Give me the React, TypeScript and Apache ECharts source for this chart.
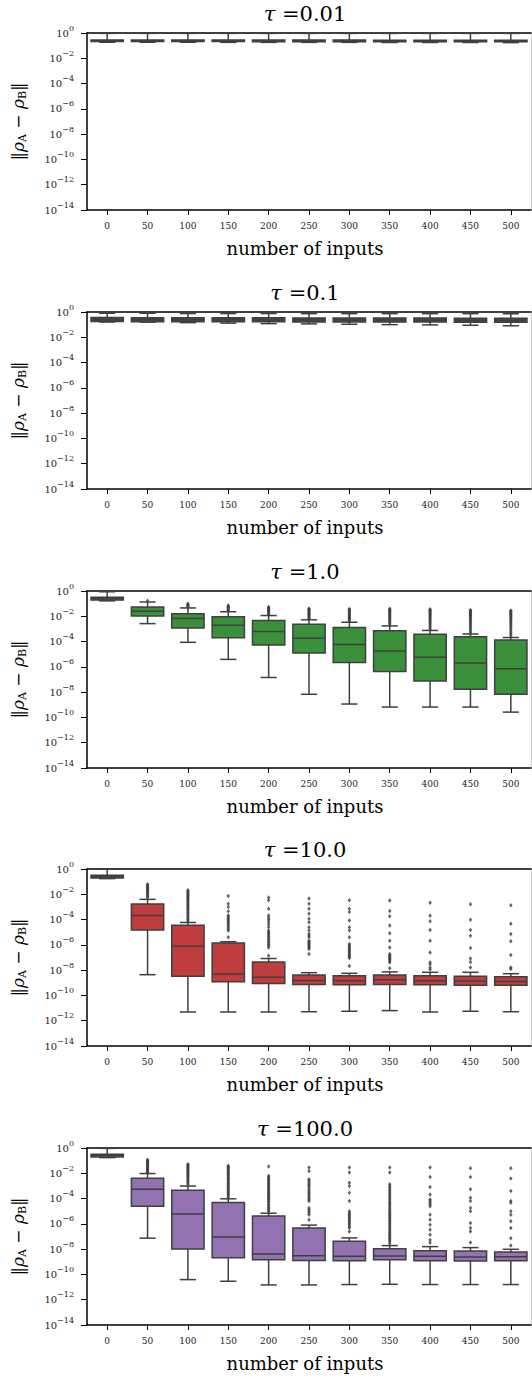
import React, { useEffect, useRef } from 'react';
import * as echarts from 'echarts';

// x categories (number of inputs)
const categories = ['0', '50', '100', '150', '200', '250', '300', '350', '400', '450', '500'];
const tauLabels = ['0.01', '0.1', '1.0', '10.0', '100.0'];
const boxColors = ['#4a4a4a', '#4a4a4a', '#3b913b', '#c03d3e', '#9372b2'];

// All values below are log10(‖ρA − ρB‖).
// Box rows: [lower whisker, q1, median, q3, upper whisker], one row per category.
const boxesTau001 = [
  [-0.73, -0.68, -0.62, -0.56, -0.03], [-0.73, -0.68, -0.62, -0.56, -0.03],
  [-0.73, -0.68, -0.62, -0.56, -0.03], [-0.74, -0.68, -0.62, -0.56, -0.03],
  [-0.74, -0.69, -0.62, -0.56, -0.03], [-0.74, -0.69, -0.63, -0.56, -0.03],
  [-0.74, -0.69, -0.63, -0.56, -0.03], [-0.75, -0.69, -0.63, -0.57, -0.03],
  [-0.75, -0.69, -0.63, -0.57, -0.03], [-0.75, -0.70, -0.63, -0.57, -0.03],
  [-0.76, -0.70, -0.64, -0.57, -0.03],
];
const boxesTau01 = [
  [-0.79, -0.76, -0.60, -0.44, -0.10], [-0.80, -0.77, -0.61, -0.45, -0.10],
  [-0.84, -0.78, -0.62, -0.45, -0.12], [-0.88, -0.78, -0.62, -0.46, -0.12],
  [-0.92, -0.78, -0.63, -0.46, -0.12], [-0.94, -0.79, -0.63, -0.47, -0.13],
  [-0.97, -0.79, -0.64, -0.47, -0.13], [-1.00, -0.80, -0.64, -0.48, -0.13],
  [-1.02, -0.80, -0.65, -0.48, -0.13], [-1.05, -0.81, -0.65, -0.49, -0.13],
  [-1.09, -0.82, -0.66, -0.49, -0.14],
];
const boxesTau1 = [
  [-0.78, -0.71, -0.60, -0.50, -0.06], [-2.58, -1.98, -1.60, -1.26, -0.87],
  [-4.06, -2.92, -2.18, -1.79, -1.34], [-5.41, -3.69, -2.71, -2.04, -1.64],
  [-6.84, -4.27, -3.21, -2.33, -1.94], [-8.17, -4.91, -3.74, -2.63, -2.28],
  [-8.94, -5.65, -4.24, -2.89, -2.47], [-9.18, -6.37, -4.74, -3.15, -2.76],
  [-9.18, -7.11, -5.24, -3.42, -3.12], [-9.18, -7.77, -5.69, -3.62, -3.40],
  [-9.58, -8.17, -6.15, -3.88, -3.68],
];
const boxesTau10 = [
  [-0.76, -0.71, -0.60, -0.50, -0.02], [-8.36, -4.82, -3.67, -2.77, -2.40],
  [-11.31, -8.49, -6.12, -4.45, -4.23], [-11.31, -8.92, -8.30, -5.86, -5.75],
  [-11.31, -9.05, -8.57, -7.35, -7.08], [-11.29, -9.13, -8.81, -8.38, -8.20],
  [-11.25, -9.16, -8.84, -8.44, -8.25], [-11.20, -9.13, -8.76, -8.38, -8.14],
  [-11.31, -9.16, -8.84, -8.44, -8.17], [-11.25, -9.19, -8.86, -8.49, -8.17],
  [-11.29, -9.19, -8.89, -8.52, -8.28],
];
const boxesTau100 = [
  [-0.76, -0.71, -0.60, -0.50, -0.03], [-7.13, -4.60, -3.27, -2.40, -2.02],
  [-10.41, -7.99, -5.22, -3.35, -3.01], [-10.54, -8.68, -7.03, -4.31, -4.02],
  [-10.83, -8.84, -8.38, -5.38, -5.16], [-10.83, -8.89, -8.52, -6.33, -6.10],
  [-10.80, -8.92, -8.57, -7.37, -7.11], [-10.78, -8.84, -8.54, -7.96, -7.72],
  [-10.80, -8.92, -8.57, -8.12, -7.80], [-10.80, -8.94, -8.62, -8.14, -7.88],
  [-10.80, -8.92, -8.60, -8.22, -8.01],
];

// Outliers (log10 values), one list per category.
const fliersTau001: number[][] = [[], [], [], [], [], [], [], [], [], [], []];
const fliersTau01: number[][] = [[], [], [], [], [], [], [], [], [], [], []];
const fliersTau1: number[][] = [
  [],
  [-0.78],
  [-1.0, -1.07, -1.12, -1.2, -1.27],
  [-1.14, -1.2, -1.27, -1.33, -1.41, -1.48, -1.56],
  [-1.27, -1.33, -1.4, -1.46, -1.53, -1.6, -1.68, -1.77, -1.86],
  [-1.38, -1.44, -1.5, -1.57, -1.63, -1.7, -1.76, -1.83, -1.9, -1.97, -2.05, -2.13, -2.2],
  [-1.43, -1.49, -1.55, -1.62, -1.68, -1.75, -1.82, -1.9, -1.97, -2.05, -2.13, -2.21, -2.3, -2.38],
  [-1.4, -1.46, -1.52, -1.58, -1.65, -1.72, -1.79, -1.86, -1.94, -2.02, -2.1, -2.19, -2.28, -2.38, -2.48, -2.6, -2.7],
  [-1.45, -1.51, -1.57, -1.63, -1.7, -1.77, -1.84, -1.92, -2.0, -2.08, -2.17, -2.26, -2.36, -2.46, -2.57, -2.68, -2.8, -2.93, -3.05],
  [-1.5, -1.56, -1.62, -1.69, -1.76, -1.83, -1.9, -1.98, -2.06, -2.15, -2.24, -2.34, -2.44, -2.55, -2.66, -2.78, -2.9, -3.03, -3.16, -3.3],
  [-1.55, -1.61, -1.67, -1.74, -1.81, -1.88, -1.96, -2.04, -2.13, -2.22, -2.32, -2.42, -2.53, -2.64, -2.76, -2.88, -3.01, -3.14, -3.28, -3.42, -3.56],
];
const fliersTau10: number[][] = [
  [],
  [-1.2, -1.27, -1.34, -1.41, -1.48, -1.56, -1.63, -1.71, -1.8, -1.88, -1.97, -2.06, -2.16, -2.26],
  [-1.68, -1.76, -1.84, -1.92, -2.0, -2.08, -2.16, -2.24, -2.33, -2.42, -2.51, -2.6, -2.7, -2.8, -2.9, -3.0, -3.1, -3.2, -3.3, -3.42, -3.54, -3.66, -3.78, -3.9, -4.02, -4.12],
  [-2.13, -2.74, -3.0, -3.35, -3.67, -3.78, -3.9, -4.02, -4.12, -4.24, -4.36, -4.48, -4.6, -4.74, -4.87, -5.4],
  [-2.26, -2.48, -3.14, -3.67, -3.85, -4.02, -4.2, -4.38, -4.6, -4.87, -4.98, -5.1, -5.22, -5.34, -5.46, -5.58, -5.7, -5.82, -5.95, -6.08, -6.2, -6.87],
  [-2.34, -2.74, -3.14, -3.54, -3.94, -4.21, -4.6, -4.87, -5.14, -5.27, -5.4, -5.67, -5.76, -5.85, -5.94, -6.03, -6.12, -6.22, -6.33, -6.73],
  [-2.48, -3.14, -3.4, -4.07, -4.6, -4.87, -5.4, -5.94, -6.04, -6.14, -6.24, -6.34, -6.44, -6.54, -6.64, -6.74, -6.84, -6.94, -7.04, -7.67],
  [-2.5, -3.33, -3.73, -4.47, -5.08, -5.67, -6.2, -6.73, -6.82, -6.91, -7.0, -7.09, -7.18, -7.28, -7.4, -7.85],
  [-2.66, -3.7, -4.13, -4.82, -5.67, -6.6, -7.4, -7.53, -7.8, -7.95],
  [-2.79, -4.02, -4.82, -5.27, -6.25, -7.08, -7.35, -7.8],
  [-2.87, -4.34, -5.14, -5.72, -6.81, -7.8, -7.9],
];
const fliersTau100: number[][] = [
  [],
  [-0.93, -1.0, -1.06, -1.12, -1.19, -1.26, -1.33, -1.4, -1.48, -1.56, -1.64, -1.72, -1.8, -1.88, -1.95],
  [-1.28, -1.35, -1.42, -1.5, -1.58, -1.66, -1.74, -1.82, -1.9, -1.98, -2.07, -2.16, -2.25, -2.35, -2.45, -2.55, -2.65, -2.76, -2.88],
  [-1.41, -1.49, -1.57, -1.65, -1.73, -1.82, -1.91, -2.0, -2.1, -2.2, -2.3, -2.4, -2.5, -2.6, -2.7, -2.8, -2.9, -3.0, -3.1, -3.2, -3.3, -3.4, -3.5, -3.6, -3.7, -3.8, -3.92],
  [-1.46, -2.21, -2.3, -2.4, -2.5, -2.6, -2.7, -2.8, -2.9, -3.0, -3.1, -3.2, -3.3, -3.4, -3.5, -3.6, -3.7, -3.8, -3.9, -4.0, -4.1, -4.2, -4.32, -4.44, -4.56, -4.68, -4.8, -4.92, -5.02],
  [-1.54, -1.81, -2.48, -2.6, -2.72, -2.84, -2.96, -3.08, -3.27, -3.4, -3.53, -3.66, -3.8, -3.94, -4.08, -4.2, -4.74, -4.88, -5.02, -5.14, -5.27, -5.67],
  [-1.54, -1.94, -2.74, -3.0, -3.54, -4.2, -5.0, -5.12, -5.24, -5.36, -5.48, -5.6, -5.72, -5.84, -5.96, -6.08, -6.2, -6.33, -6.6],
  [-1.54, -1.94, -2.87, -3.0, -3.13, -3.26, -3.4, -3.54, -3.68, -3.82, -3.96, -4.1, -4.24, -4.36, -4.47, -4.6, -4.74, -4.88, -5.0, -5.12, -5.24, -5.36, -5.48, -5.6, -5.72, -5.84, -5.96, -6.08, -6.2, -6.32, -6.44, -6.56, -6.68, -6.8, -6.92, -7.04, -7.16, -7.28, -7.4, -7.55],
  [-1.54, -2.29, -3.09, -3.67, -4.07, -4.2, -4.34, -4.47, -4.6, -5.27, -5.67, -6.07, -6.47, -6.87, -7.27, -7.5],
  [-1.6, -2.29, -3.27, -3.94, -4.2, -4.74, -5.0, -5.94, -6.33, -6.6, -7.48],
  [-1.6, -2.42, -3.41, -4.2, -4.34, -5.0, -5.27, -5.8, -6.33, -7.13, -7.72],
];

const allBoxes = [boxesTau001, boxesTau01, boxesTau1, boxesTau10, boxesTau100];
const allFliers = [fliersTau001, fliersTau01, fliersTau1, fliersTau10, fliersTau100];

const SERIF = '"DejaVu Serif", "Liberation Serif", serif';
const LINE = '#3f3f3f';
const GRID_LEFT = 87;
const GRID_WIDTH = 444;
const GRID_HEIGHT = 177;
const GRID_TOPS = [33, 312, 591, 869, 1148];

function makeRenderBox(color: string) {
  return (params: any, api: any) => {
    const x = api.value(0);
    const low = api.coord([x, api.value(1)]);
    const q1 = api.coord([x, api.value(2)]);
    const med = api.coord([x, api.value(3)]);
    const q3 = api.coord([x, api.value(4)]);
    const high = api.coord([x, api.value(5)]);
    const band = api.size([1, 0])[0];
    const bw = band * 0.8;
    const cx = low[0];
    const ls = { stroke: LINE, lineWidth: 1.5, fill: null };
    return {
      type: 'group',
      children: [
        { type: 'line', shape: { x1: cx, y1: q1[1], x2: cx, y2: low[1] }, style: ls },
        { type: 'line', shape: { x1: cx, y1: q3[1], x2: cx, y2: high[1] }, style: ls },
        { type: 'line', shape: { x1: cx - bw / 4, y1: low[1], x2: cx + bw / 4, y2: low[1] }, style: ls },
        { type: 'line', shape: { x1: cx - bw / 4, y1: high[1], x2: cx + bw / 4, y2: high[1] }, style: ls },
        {
          type: 'rect',
          shape: { x: cx - bw / 2, y: q3[1], width: bw, height: q1[1] - q3[1] },
          style: { fill: color, stroke: LINE, lineWidth: 1.5 },
        },
        { type: 'line', shape: { x1: cx - bw / 2, y1: med[1], x2: cx + bw / 2, y2: med[1] }, style: ls },
      ],
    };
  };
}

function buildOption() {
  const grid: any[] = [];
  const xAxis: any[] = [];
  const yAxis: any[] = [];
  const series: any[] = [];
  const graphic: any[] = [];

  GRID_TOPS.forEach((top, i) => {
    grid.push({ left: GRID_LEFT, top, width: GRID_WIDTH, height: GRID_HEIGHT });
    // bottom x axis
    xAxis.push({
      type: 'category',
      gridIndex: i,
      data: categories,
      position: 'bottom',
      axisLine: { show: true, onZero: false, lineStyle: { color: '#000', width: 1.5 } },
      axisTick: { show: true, alignWithLabel: true, length: 5, lineStyle: { color: '#000', width: 1 } },
      axisLabel: { fontFamily: SERIF, fontSize: 9, color: '#222', margin: 11 },
      splitLine: { show: false },
    });
    // top spine
    xAxis.push({
      type: 'category',
      gridIndex: i,
      data: categories,
      position: 'top',
      axisLine: { show: true, onZero: false, lineStyle: { color: '#000', width: 1.5 } },
      axisTick: { show: false },
      axisLabel: { show: false },
      splitLine: { show: false },
    });
    // left y axis
    yAxis.push({
      type: 'value',
      gridIndex: i,
      min: -14,
      max: 0,
      interval: 2,
      position: 'left',
      axisLine: { show: true, onZero: false, lineStyle: { color: '#000', width: 1.5 } },
      axisTick: { show: true, length: 6, lineStyle: { color: '#000', width: 1 } },
      splitLine: { show: false },
      axisLabel: {
        margin: 13,
        formatter: (v: number) => (v === 0 ? '{b|10}{s|0}' : `{b|10}{s|−${-v}}`),
        rich: {
          b: { fontFamily: SERIF, fontSize: 10, color: '#222', lineHeight: 18 },
          s: { fontFamily: SERIF, fontSize: 8, color: '#222', lineHeight: 9, verticalAlign: 'top' },
        },
      },
    });
    // right spine
    yAxis.push({
      type: 'value',
      gridIndex: i,
      min: -14,
      max: 0,
      interval: 2,
      position: 'right',
      axisLine: { show: true, onZero: false, lineStyle: { color: '#c8c8c8', width: 1 } },
      axisTick: { show: false },
      axisLabel: { show: false },
      splitLine: { show: false },
    });

    const boxes = allBoxes[i];
    series.push({
      type: 'custom',
      xAxisIndex: i * 2,
      yAxisIndex: i * 2,
      renderItem: makeRenderBox(boxColors[i]),
      encode: { x: 0, y: [1, 2, 3, 4, 5] },
      data: boxes.map((row, ci) => [ci, ...row]),
      z: 2,
    });
    const fl = allFliers[i];
    const pts: number[][] = [];
    fl.forEach((vals, ci) => vals.forEach((v) => pts.push([ci, v])));
    series.push({
      type: 'scatter',
      xAxisIndex: i * 2,
      yAxisIndex: i * 2,
      symbol: 'diamond',
      symbolSize: [3.5, 4.5],
      itemStyle: { color: LINE },
      data: pts,
      z: 3,
    });

    // panel title
    graphic.push({
      type: 'text',
      x: GRID_LEFT + GRID_WIDTH / 2 - 4,
      y: top - 19,
      style: {
        text: `{t|τ}{v| =${tauLabels[i]}}`,
        align: 'center',
        verticalAlign: 'middle',
        rich: {
          t: { fontFamily: SERIF, fontSize: 21, fontStyle: 'italic', fill: '#000' },
          v: { fontFamily: SERIF, fontSize: 21, fill: '#000' },
        },
      },
    });
    // x axis title
    graphic.push({
      type: 'text',
      x: GRID_LEFT + GRID_WIDTH / 2 - 4,
      y: top + GRID_HEIGHT + 38,
      style: {
        text: 'number of inputs',
        fontFamily: SERIF,
        fontSize: 18,
        fill: '#000',
        align: 'center',
        verticalAlign: 'middle',
      },
    });
    // y axis title (rotated)
    graphic.push({
      type: 'text',
      x: 18,
      y: top + GRID_HEIGHT / 2,
      rotation: Math.PI / 2,
      style: {
        text: '{n|‖}{r|ρ}{u|A}{n| − }{r|ρ}{u|B}{n|‖}',
        align: 'center',
        verticalAlign: 'middle',
        rich: {
          n: { fontFamily: SERIF, fontSize: 17, fill: '#000', lineHeight: 20 },
          r: { fontFamily: SERIF, fontSize: 17, fontStyle: 'italic', fill: '#000', lineHeight: 20 },
          u: { fontFamily: SERIF, fontSize: 11, fill: '#000', lineHeight: 9, verticalAlign: 'bottom' },
        },
      },
    });
  });

  return { animation: false, backgroundColor: '#fff', grid, xAxis, yAxis, series, graphic };
}

export default function App() {
  const ref = useRef<HTMLDivElement>(null);
  useEffect(() => {
    if (!ref.current) return;
    const chart = echarts.init(ref.current, undefined, { renderer: 'svg' });
    chart.setOption(buildOption() as any);
    return () => chart.dispose();
  }, []);
  return (
    <div
      ref={ref}
      style={{ position: 'absolute', left: 0, top: 0, width: 532, height: 1376, background: '#fff' }}
    />
  );
}
